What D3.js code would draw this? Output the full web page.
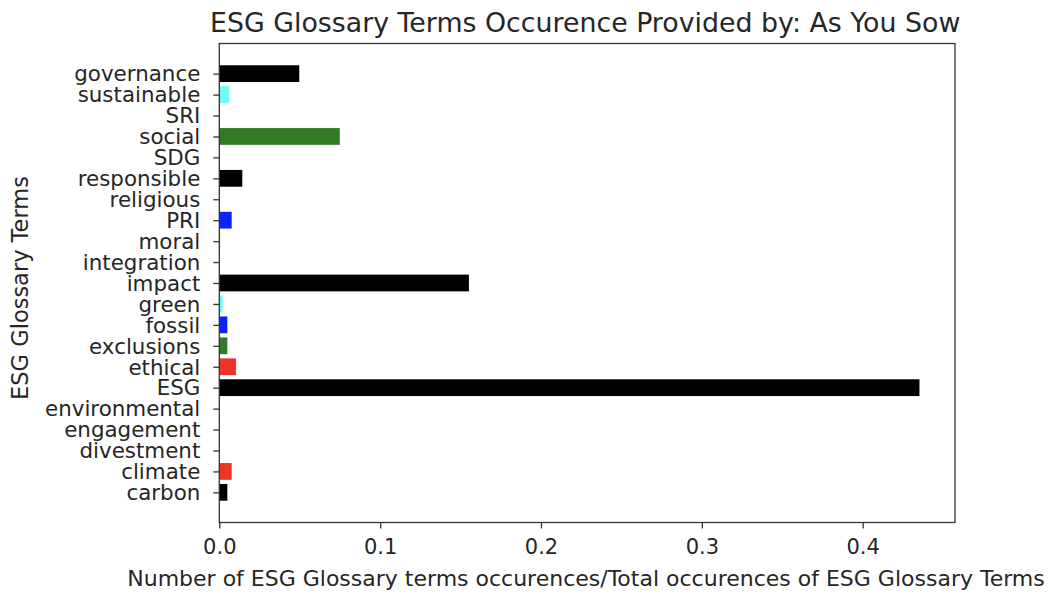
<!DOCTYPE html>
<html><head><meta charset="utf-8">
<script src="https://cdn.jsdelivr.net/npm/d3@7"></script>
<style>body{margin:0;background:#fff}svg{display:block}text{font-family:"DejaVu Sans",sans-serif;fill:#262626}</style>
</head><body>
<script>
const categories = ["carbon","climate","divestment","engagement","environmental","ESG","ethical","exclusions","fossil","green","impact","integration","moral","PRI","religious","responsible","SDG","social","SRI","sustainable","governance"];
const values = [0.0050,0.0077,0,0,0,0.4353,0.0104,0.0050,0.0050,0.0021,0.1552,0,0.0005,0.0077,0,0.0143,0,0.0749,0,0.0062,0.0497];
const colorCycle = ["#000000","#ee3426","#327b26","#0b22f4","#6ffafa"];
const xTicks = [0,0.1,0.2,0.3,0.4];
const titleText = "ESG Glossary Terms Occurence Provided by: As You Sow";
const xLabel = "Number of ESG Glossary terms occurences/Total occurences of ESG Glossary Terms";
const yLabel = "ESG Glossary Terms";

const W=1054,H=595;
const L=219.3,R=955,T=43.5,B=522.5;
const svg=d3.select("body").append("svg").attr("width",W).attr("height",H);
const x=d3.scaleLinear().domain([0,0.4574]).range([L,R]);
const y=d3.scaleLinear().domain([-1.44,categories.length-1+1.44]).range([B,T]);
const bh=y(0)-y(0.8);

svg.append("g").selectAll("rect").data(values).join("rect")
  .attr("x",x(0)).attr("y",(d,i)=>y(i+0.4))
  .attr("width",d=>x(d)-x(0)).attr("height",bh)
  .attr("fill",(d,i)=>colorCycle[i%5]);

const xAxis=d3.axisBottom(x).tickValues(xTicks).tickFormat(d3.format(".1f")).tickSize(6).tickPadding(6);
const gx=svg.append("g").attr("transform",`translate(0,${B})`).call(xAxis);
gx.select(".domain").remove();
gx.selectAll("line").attr("stroke","#333").attr("stroke-width",1.3);
gx.selectAll("text").attr("font-size",21).attr("fill","#262626").attr("dy","0.95em").style("font-family","DejaVu Sans");

const yAxis=d3.axisLeft(y).tickValues(d3.range(categories.length)).tickFormat(i=>categories[i]).tickSize(6).tickPadding(13);
const gy=svg.append("g").attr("transform",`translate(${L},0)`).call(yAxis);
gy.select(".domain").remove();
gy.selectAll("line").attr("stroke","#333").attr("stroke-width",1.3);
gy.selectAll("text").attr("font-size",21.4).attr("fill","#262626").attr("dy","0.34em").style("font-family","DejaVu Sans");

svg.append("rect").attr("x",L).attr("y",T).attr("width",R-L).attr("height",B-T)
  .attr("fill","none").attr("stroke","#333").attr("stroke-width",1.3);

svg.append("text").attr("x",(L+R)/2-2).attr("y",32).attr("text-anchor","middle").attr("font-size",26.8).text(titleText);
svg.append("text").attr("x",586).attr("y",586).attr("text-anchor","middle").attr("font-size",22).text(xLabel);
svg.append("text").attr("transform",`translate(28,288) rotate(-90)`).attr("text-anchor","middle").attr("font-size",22.5).text(yLabel);
</script>
</body></html>
